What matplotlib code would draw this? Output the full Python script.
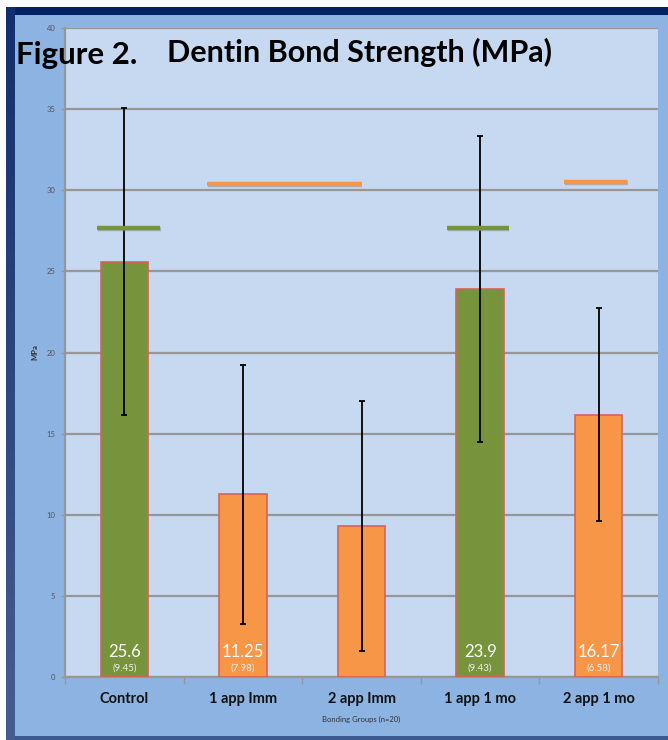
import numpy as np
import matplotlib
matplotlib.use("Agg")
import matplotlib.pyplot as plt
from matplotlib.patches import Rectangle
import matplotlib.patheffects as pe

# ---- data ----
groups = ["Control", "1 app Imm", "2 app Imm", "1 app 1 mo", "2 app 1 mo"]
means = [25.6, 11.25, 9.3, 23.9, 16.17]
sds = [9.45, 7.98, 7.7, 9.43, 6.58]
show_label = [True, True, False, True, True]
treated = [False, True, True, False, True]

# significance markers: level and horizontal extent (category units)
sig_levels = [27.7, 30.4, 27.7, 30.5]
sig_spans = [(-0.23, 0.30), (0.70, 2.00), (2.72, 3.24), (3.71, 4.24)]
sig_kind = ["control", "treated", "control", "treated"]

yticks = [0, 5, 10, 15, 20, 25, 30, 35, 40]

GREEN = "#77933c"
ORANGE = "#f79646"
EDGE = "#d5645a"
OUTER = "#8db3e2"
PLOT_BG = "#c6d9f1"
GRID = "#979797"

W, H = 668, 740
fig = plt.figure(figsize=(W / 100, H / 100), dpi=100, facecolor="white")


def px_rect(x0, y0, x1, y1, color, z=0):
    r = Rectangle((x0 / W, 1 - y1 / H), (x1 - x0) / W, (y1 - y0) / H,
                  transform=fig.transFigure, facecolor=color,
                  edgecolor="none", zorder=z)
    fig.add_artist(r)


# outer frame
px_rect(15, 15, W, 737, OUTER, z=-10)
px_rect(6, 7, W, 15, "#022263", z=-9)
px_rect(6, 736, W, 740, "#3c5a90", z=-9)
# left border with a vertical gradient
gax = fig.add_axes([6 / W, 0, 9 / W, 1 - 7 / H], zorder=-9)
grad = np.linspace(0, 1, 256).reshape(-1, 1)
top = np.array([0x12, 0x2e, 0x6e]) / 255
bot = np.array([0x45, 0x5e, 0x92]) / 255
img = top + (bot - top) * grad[..., None]
gax.imshow(img, aspect="auto", extent=[0, 1, 0, 1], origin="upper")
gax.axis("off")

# plot area
ax = fig.add_axes([65 / W, 1 - 677 / H, 593 / W, 649 / H])
ax.set_facecolor(PLOT_BG)
x = np.arange(len(groups))
colors = [ORANGE if t else GREEN for t in treated]

ax.bar(x, means, width=0.40, color=colors, edgecolor=EDGE, linewidth=1.2,
       zorder=3)
ax.errorbar(x, means, yerr=sds, fmt="none", ecolor="black", elinewidth=1.3,
            capsize=2.5, capthick=1.3, zorder=4)

for (x0, x1), lvl, kind in zip(sig_spans, sig_levels, sig_kind):
    c = ORANGE if kind == "treated" else GREEN
    ax.plot([x0, x1], [lvl, lvl], color=c, lw=3.2, solid_capstyle="butt",
            zorder=5,
            path_effects=[pe.SimpleLineShadow(offset=(0.6, -0.8),
                                              shadow_color="#7f8fa6",
                                              alpha=0.5),
                          pe.Normal()])

for xi, m, s, show in zip(x, means, sds, show_label):
    if not show:
        continue
    ax.text(xi, 1.55, f"{m:g}", ha="center", va="center", color="white",
            fontsize=12, family="Lato", zorder=6)
    ax.text(xi, 0.55, f"({s:.2f})", ha="center", va="center",
            color="#eeeeee", fontsize=7, family="Lato", zorder=6)

ax.set_xlim(-0.5, len(groups) - 0.5)
ax.set_ylim(0, 40)
ax.set_yticks(yticks)
ax.set_yticklabels([str(v) for v in yticks], fontsize=5.5, color="#555555",
                   family="Lato")
ax.yaxis.grid(True, color=GRID, lw=1.6, zorder=0)
ax.set_axisbelow(True)
ax.tick_params(axis="y", length=3, width=1, color=GRID, pad=4)

ax.set_xticks(x)
ax.set_xticklabels(groups, fontsize=10.5, fontweight="bold", family="Lato",
                   color="#111111")
ax.set_xticks(np.arange(len(groups) + 1) - 0.5, minor=True)
ax.tick_params(axis="x", which="major", length=0, pad=11)
ax.tick_params(axis="x", which="minor", length=5, width=1, color=GRID)

for side in ("top", "right"):
    ax.spines[side].set_visible(False)
for side in ("left", "bottom"):
    ax.spines[side].set_color(GRID)
    ax.spines[side].set_linewidth(1.6)

ax.set_xlabel("Bonding Groups (n=20)", fontsize=5.5, family="Lato",
              color="#333333", labelpad=7)
ax.set_ylabel("MPa", fontsize=5.5, family="Lato", fontweight="bold",
              color="#333333", labelpad=6)
ax.yaxis.set_label_coords(-0.045, 0.5)

# titles
fig.text(16 / W, 1 - 55 / H, "Figure 2.", fontsize=22.5, fontweight="bold",
         family="Lato", color="black", va="center", ha="left")
fig.text(167 / W, 1 - 52 / H, "Dentin Bond Strength (MPa)", fontsize=22,
         fontweight="bold", family="Lato", color="black", va="center",
         ha="left")

fig.savefig("out.png", dpi=100, facecolor=fig.get_facecolor())
